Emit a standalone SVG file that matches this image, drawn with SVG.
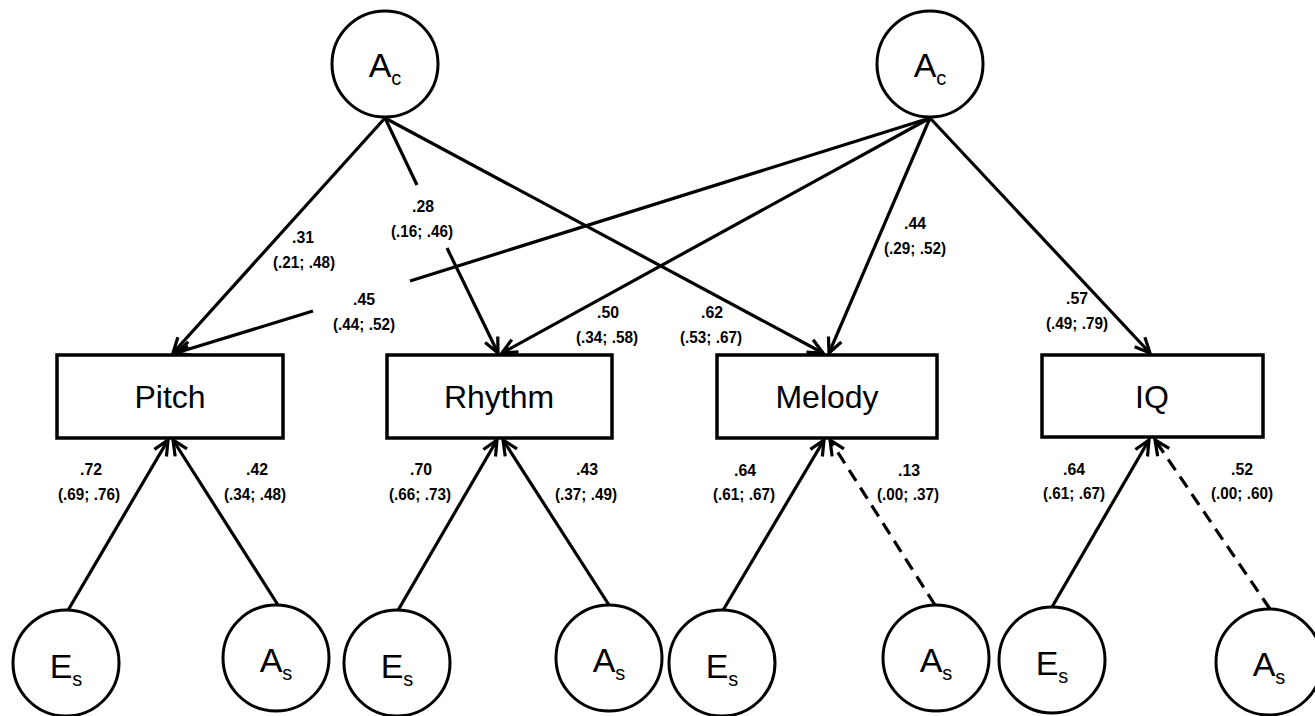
<svg xmlns="http://www.w3.org/2000/svg" width="1315" height="716" viewBox="0 0 1315 716">
  <style>
    .node circle, .node rect { fill: #fff; stroke: #000; stroke-width: 3; }
    .node rect { stroke-width: 3.5; }
    .lat { font-family: "Liberation Sans", Arial, sans-serif; font-size: 34px; fill: #000; }
    .lat tspan.sub { font-size: 20px; }
    .obs { font-family: "Liberation Sans", Arial, sans-serif; font-size: 32px; fill: #000; text-anchor: middle; }
    .edge { stroke: #000; stroke-width: 3.2; fill: none; }
    .dash { stroke-dasharray: 13 8; }
    .lbl { font-family: "Liberation Sans", Arial, sans-serif; font-size: 17px; font-weight: bold; fill: #000; text-anchor: middle; }
  </style>
  <defs>
    <marker id="arrow" markerUnits="userSpaceOnUse" markerWidth="24" markerHeight="24" refX="0" refY="0" viewBox="-18 -12 24 24" orient="auto">
      <path d="M-15,-7 L0,0 L-15,7" fill="none" stroke="#000" stroke-width="3.2" stroke-linejoin="miter"/>
    </marker>
  </defs>
  <rect width="1315" height="716" fill="#fff"/>

  <!-- connectors -->
  <g id="connectors">
    <!-- left common factor -->
    <line class="edge" x1="385" y1="118" x2="173" y2="353" marker-end="url(#arrow)"/>
    <line class="edge" x1="385" y1="118" x2="417" y2="185"/>
    <line class="edge" x1="447" y1="248" x2="498" y2="353" marker-end="url(#arrow)"/>
    <line class="edge" x1="385" y1="118" x2="823" y2="353" marker-end="url(#arrow)"/>
    <!-- right common factor -->
    <line class="edge" x1="930" y1="118" x2="410" y2="281"/>
    <line class="edge" x1="313" y1="311" x2="176" y2="353" marker-end="url(#arrow)"/>
    <line class="edge" x1="930" y1="118" x2="502" y2="353" marker-end="url(#arrow)"/>
    <line class="edge" x1="930" y1="118" x2="829" y2="353" marker-end="url(#arrow)"/>
    <line class="edge" x1="930" y1="118" x2="1150" y2="353" marker-end="url(#arrow)"/>
    <!-- specific factors -->
    <line class="edge" x1="67" y1="612" x2="168" y2="440" marker-end="url(#arrow)"/>
    <line class="edge" x1="278" y1="605" x2="173" y2="440" marker-end="url(#arrow)"/>
    <line class="edge" x1="397" y1="612" x2="497" y2="440" marker-end="url(#arrow)"/>
    <line class="edge" x1="609" y1="605" x2="503" y2="440" marker-end="url(#arrow)"/>
    <line class="edge" x1="722" y1="612" x2="824" y2="440" marker-end="url(#arrow)"/>
    <line class="edge dash" x1="935" y1="605" x2="830" y2="440" marker-end="url(#arrow)"/>
    <line class="edge" x1="1052" y1="607" x2="1149" y2="440" marker-end="url(#arrow)"/>
    <line class="edge dash" x1="1270" y1="609" x2="1155" y2="440" marker-end="url(#arrow)"/>
  </g>

  <!-- path coefficients -->
  <g id="labels">
    <text class="lbl" x="303" y="243" textLength="22" lengthAdjust="spacingAndGlyphs">.31</text>
    <text class="lbl" x="304" y="268" textLength="62" lengthAdjust="spacingAndGlyphs">(.21; .48)</text>
    <text class="lbl" x="423" y="212" textLength="22" lengthAdjust="spacingAndGlyphs">.28</text>
    <text class="lbl" x="422" y="237" textLength="62" lengthAdjust="spacingAndGlyphs">(.16; .46)</text>
    <text class="lbl" x="364" y="305" textLength="22" lengthAdjust="spacingAndGlyphs">.45</text>
    <text class="lbl" x="364" y="330" textLength="62" lengthAdjust="spacingAndGlyphs">(.44; .52)</text>
    <text class="lbl" x="608" y="318" textLength="22" lengthAdjust="spacingAndGlyphs">.50</text>
    <text class="lbl" x="607" y="343" textLength="62" lengthAdjust="spacingAndGlyphs">(.34; .58)</text>
    <text class="lbl" x="712" y="318" textLength="22" lengthAdjust="spacingAndGlyphs">.62</text>
    <text class="lbl" x="711" y="343" textLength="62" lengthAdjust="spacingAndGlyphs">(.53; .67)</text>
    <text class="lbl" x="915" y="229" textLength="22" lengthAdjust="spacingAndGlyphs">.44</text>
    <text class="lbl" x="915" y="254" textLength="62" lengthAdjust="spacingAndGlyphs">(.29; .52)</text>
    <text class="lbl" x="1077" y="304" textLength="22" lengthAdjust="spacingAndGlyphs">.57</text>
    <text class="lbl" x="1077" y="329" textLength="62" lengthAdjust="spacingAndGlyphs">(.49; .79)</text>

    <text class="lbl" x="91" y="475" textLength="22" lengthAdjust="spacingAndGlyphs">.72</text>
    <text class="lbl" x="89" y="500" textLength="62" lengthAdjust="spacingAndGlyphs">(.69; .76)</text>
    <text class="lbl" x="257" y="475" textLength="22" lengthAdjust="spacingAndGlyphs">.42</text>
    <text class="lbl" x="255" y="500" textLength="62" lengthAdjust="spacingAndGlyphs">(.34; .48)</text>
    <text class="lbl" x="421" y="475" textLength="22" lengthAdjust="spacingAndGlyphs">.70</text>
    <text class="lbl" x="420" y="500" textLength="62" lengthAdjust="spacingAndGlyphs">(.66; .73)</text>
    <text class="lbl" x="587" y="475" textLength="22" lengthAdjust="spacingAndGlyphs">.43</text>
    <text class="lbl" x="586" y="500" textLength="62" lengthAdjust="spacingAndGlyphs">(.37; .49)</text>
    <text class="lbl" x="745" y="476" textLength="22" lengthAdjust="spacingAndGlyphs">.64</text>
    <text class="lbl" x="744" y="500" textLength="62" lengthAdjust="spacingAndGlyphs">(.61; .67)</text>
    <text class="lbl" x="909" y="476" textLength="22" lengthAdjust="spacingAndGlyphs">.13</text>
    <text class="lbl" x="908" y="500" textLength="62" lengthAdjust="spacingAndGlyphs">(.00; .37)</text>
    <text class="lbl" x="1074" y="475" textLength="22" lengthAdjust="spacingAndGlyphs">.64</text>
    <text class="lbl" x="1074" y="499" textLength="62" lengthAdjust="spacingAndGlyphs">(.61; .67)</text>
    <text class="lbl" x="1242" y="475" textLength="22" lengthAdjust="spacingAndGlyphs">.52</text>
    <text class="lbl" x="1242" y="499" textLength="62" lengthAdjust="spacingAndGlyphs">(.00; .60)</text>
  </g>

  <!-- common factors -->
  <g id="Ac-left" class="node">
    <circle cx="385" cy="64" r="53"/>
    <text class="lat" x="385" y="77" text-anchor="middle">A<tspan class="sub" dy="8">c</tspan></text>
  </g>
  <g id="Ac-right" class="node">
    <circle cx="930" cy="64" r="53"/>
    <text class="lat" x="930" y="77" text-anchor="middle">A<tspan class="sub" dy="8">c</tspan></text>
  </g>

  <!-- observed measures -->
  <g id="Pitch" class="node">
    <rect x="57" y="355" width="226" height="83"/>
    <text class="obs" x="170" y="408">Pitch</text>
  </g>
  <g id="Rhythm" class="node">
    <rect x="387" y="355" width="225" height="83"/>
    <text class="obs" x="499" y="408">Rhythm</text>
  </g>
  <g id="Melody" class="node">
    <rect x="717" y="355" width="220" height="83"/>
    <text class="obs" x="827" y="408">Melody</text>
  </g>
  <g id="IQ" class="node">
    <rect x="1042" y="355" width="221" height="82"/>
    <text class="obs" x="1152" y="408">IQ</text>
  </g>

  <!-- specific factors -->
  <g id="Es-pitch" class="node">
    <circle cx="66" cy="663" r="53"/>
    <text class="lat" x="66" y="678" text-anchor="middle">E<tspan class="sub" dy="8">s</tspan></text>
  </g>
  <g id="As-pitch" class="node">
    <circle cx="276" cy="658" r="53"/>
    <text class="lat" x="276" y="672" text-anchor="middle">A<tspan class="sub" dy="8">s</tspan></text>
  </g>
  <g id="Es-rhythm" class="node">
    <circle cx="397" cy="663" r="53"/>
    <text class="lat" x="397" y="678" text-anchor="middle">E<tspan class="sub" dy="8">s</tspan></text>
  </g>
  <g id="As-rhythm" class="node">
    <circle cx="609" cy="658" r="53"/>
    <text class="lat" x="609" y="672" text-anchor="middle">A<tspan class="sub" dy="8">s</tspan></text>
  </g>
  <g id="Es-melody" class="node">
    <circle cx="722" cy="663" r="53"/>
    <text class="lat" x="722" y="678" text-anchor="middle">E<tspan class="sub" dy="8">s</tspan></text>
  </g>
  <g id="As-melody" class="node">
    <circle cx="936" cy="658" r="53"/>
    <text class="lat" x="936" y="672" text-anchor="middle">A<tspan class="sub" dy="8">s</tspan></text>
  </g>
  <g id="Es-iq" class="node">
    <circle cx="1052" cy="660" r="53"/>
    <text class="lat" x="1052" y="675" text-anchor="middle">E<tspan class="sub" dy="8">s</tspan></text>
  </g>
  <g id="As-iq" class="node">
    <circle cx="1269" cy="662" r="53"/>
    <text class="lat" x="1269" y="676" text-anchor="middle">A<tspan class="sub" dy="8">s</tspan></text>
  </g>
</svg>
